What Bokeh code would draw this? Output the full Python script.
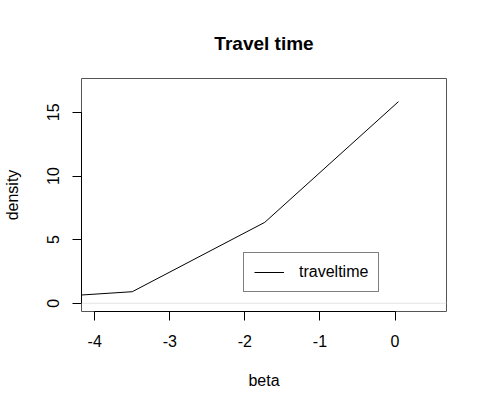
from bokeh.plotting import figure
from bokeh.models import Range1d, FixedTicker, Span, Legend, LegendItem
from bokeh.embed import file_html
from bokeh.resources import INLINE

# data
beta = [-4.18, -3.50, -1.735, 0.045]
density = [0.65, 0.91, 6.36, 15.84]
x_ticks = [-4, -3, -2, -1, 0]
y_ticks = [0, 5, 10, 15]

FONT = "Liberation Sans"

p = figure(width=478, height=402, output_backend="svg", toolbar_location=None,
           x_range=Range1d(-4.176, 0.685), y_range=Range1d(-0.644, 17.66),
           min_border_left=79, min_border_right=32, min_border_top=78, min_border_bottom=91,
           title="Travel time")

p.background_fill_color = "white"
p.border_fill_color = "white"
p.outline_line_color = "#555555"
p.outline_line_width = 1
p.xgrid.visible = False
p.ygrid.visible = False

p.title.align = "center"
p.title.vertical_align = "middle"
p.title.text_font = FONT
p.title.text_font_size = "19px"
p.title.text_font_style = "bold"
p.title.text_color = "black"
p.title.standoff = 47

for ax, ticks, bnds in ((p.xaxis[0], x_ticks, (-4, 0)), (p.yaxis[0], y_ticks, (0, 15))):
    ax.ticker = FixedTicker(ticks=ticks)
    ax.major_label_overrides = {t: str(t) for t in ticks}
    ax.bounds = bnds
    ax.minor_tick_line_color = None
    ax.major_tick_in = 0
    ax.major_tick_out = 9
    ax.axis_line_color = "black"
    ax.major_tick_line_color = "black"
    ax.major_label_text_font = FONT
    ax.major_label_text_font_size = "16px"
    ax.major_label_text_color = "black"
    ax.axis_label_text_font = FONT
    ax.axis_label_text_font_size = "16px"
    ax.axis_label_text_font_style = "normal"
    ax.axis_label_text_color = "black"

p.xaxis.axis_label = "beta"
p.yaxis.axis_label = "density"
p.xaxis.major_label_standoff = 14
p.xaxis.axis_label_standoff = 22
p.yaxis.major_label_orientation = "vertical"
p.yaxis.major_label_standoff = 13
p.yaxis.axis_label_standoff = 24

p.add_layout(Span(location=0, dimension="width", line_color="#e5e5e5", line_width=1))

r = p.line(beta, density, line_color="black", line_width=1)

legend = Legend(items=[LegendItem(label="traveltime", renderers=[r])],
                location=(162, 19), padding=10, glyph_width=30, glyph_height=16,
                label_height=16, label_standoff=15, spacing=0, margin=0,
                border_line_color="black", border_line_width=1,
                background_fill_color="white", background_fill_alpha=1,
                label_text_font=FONT, label_text_font_size="16px", label_text_color="black")
p.add_layout(legend)

open("out.html", "w").write(file_html(p, INLINE))
